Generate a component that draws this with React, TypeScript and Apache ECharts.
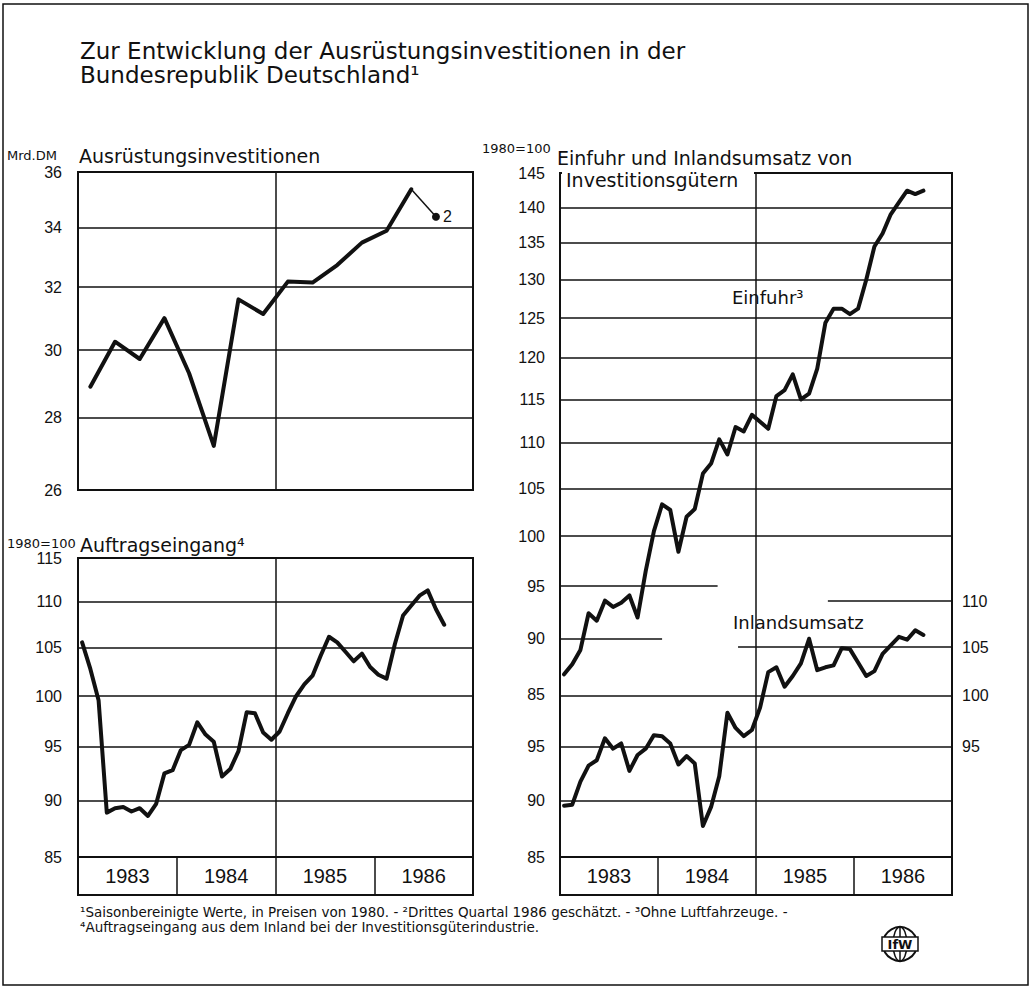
import React, { useEffect, useRef } from 'react';
import * as echarts from 'echarts';

// ---------- data ----------
const years = ['1983', '1984', '1985', '1986'];

// Ausrüstungsinvestitionen, Mrd. DM, quarterly 1983 Q1 .. 1986 Q2
const investQuarterly = [28.9, 30.26, 29.73, 31.0, 29.3, 27.2, 31.6, 31.13, 32.18, 32.15, 32.73, 33.49, 33.9, 35.37];
// 1986 Q3, estimated (footnote 2)
const investEstimate = 34.39;

// Auftragseingang (1980 = 100), monthly Jan 1983 .. Sep 1986
const ordersMonthly = [
  105.6, 102.8, 99.6, 88.9, 89.3, 89.4, 89.0, 89.3, 88.6, 89.7, 92.5, 92.8,
  94.7, 95.2, 97.4, 96.2, 95.5, 92.2, 92.9, 94.6, 98.4, 98.3, 96.4, 95.7,
  96.5, 98.3, 100.0, 101.2, 102.1, 104.2, 106.2, 105.6, 104.6, 103.6, 104.4, 103.0,
  102.2, 101.8, 105.4, 108.5, 109.6, 110.7, 111.3, 109.2, 107.5,
];

// Einfuhr von Investitionsgütern (1980 = 100), monthly
const importsMonthly = [
  86.8, 87.7, 89.0, 92.4, 91.7, 93.6, 93.0, 93.4, 94.1, 92.0, 96.5, 100.5,
  103.3, 102.7, 98.4, 102.0, 102.8, 106.6, 107.7, 110.4, 108.7, 111.8, 111.3, 113.2,
  112.4, 111.6, 115.4, 116.1, 118.0, 115.0, 115.7, 118.7, 124.4, 126.2, 126.2, 125.5,
  126.2, 130.0, 134.5, 136.3, 139.0, 140.7, 142.4, 141.9, 142.4,
];

// Inlandsumsatz von Investitionsgütern (1980 = 100), monthly
const domesticMonthly = [
  89.5, 89.6, 91.7, 93.2, 93.7, 95.8, 94.8, 95.3, 92.7, 94.2, 94.8, 96.1,
  96.0, 95.3, 93.3, 94.1, 93.4, 87.7, 89.4, 92.2, 98.3, 96.8, 96.0, 96.6,
  98.8, 102.4, 102.9, 100.9, 102.0, 103.3, 105.9, 102.6, 102.9, 103.1, 104.9, 104.8,
  103.4, 102.0, 102.5, 104.3, 105.2, 106.1, 105.8, 106.8, 106.3,
];

// tick labels / gridlines
const investTicks = [26, 28, 30, 32, 34, 36];
const ordersTicks = [85, 90, 95, 100, 105, 110, 115];
const importsLabelTicks = [85, 90, 95, 100, 105, 110, 115, 120, 125, 130, 135, 140, 145];
const importsGridTicks = [100, 105, 110, 115, 120, 125, 130, 135, 140, 145];
const domesticLeftTicks = [85, 90, 95];
const domesticGridTicks = [85, 90, 95, 100];
const domesticRightTicks = [95, 100, 105, 110];

// ---------- styling ----------
const BLACK = '#111';
const TXT = "'DejaVu Sans', 'Noto Sans', sans-serif";
const NUM = "'Liberation Sans', Arial, sans-serif";

const monthSeries = (vals: number[]) => vals.map((v, i) => [i + 0.5, v]);

function buildOption(): any {
  const gridBase = { show: true, borderColor: BLACK, borderWidth: 2, backgroundColor: 'transparent', containLabel: false };

  const plotX = (gridIndex: number) => ({
    type: 'value', gridIndex, min: 0, max: 48, interval: 24,
    axisLine: { show: false }, axisTick: { show: false }, axisLabel: { show: false },
    splitLine: { show: true, lineStyle: { color: BLACK, width: 1.5 } },
  });
  const bandX = (gridIndex: number) => ({
    type: 'category', gridIndex, data: years, boundaryGap: true,
    axisLine: { show: false }, axisTick: { show: false },
    splitLine: { show: true, interval: 0, lineStyle: { color: BLACK, width: 1.5 } },
    axisLabel: { inside: true, margin: 19, verticalAlign: 'middle', interval: 0, fontSize: 20, fontFamily: NUM, color: BLACK },
  });
  const logY = (gridIndex: number, min: number, max: number, labels: number[], grid: number[] | null, position: string, margin = 15) => ({
    type: 'log', logBase: 10, gridIndex, min, max, position,
    axisLine: { show: false },
    axisTick: { show: false, customValues: grid || labels },
    axisLabel: {
      show: true, customValues: labels, margin, fontSize: 16, fontFamily: NUM, color: BLACK,
      formatter: (v: number) => String(Math.round(v)),
    },
    splitLine: { show: !!grid, lineStyle: { color: BLACK, width: 1.5 } },
  });
  const hiddenY = (gridIndex: number) => ({ type: 'value', gridIndex, min: 0, max: 1, show: false });

  const lineStyle = { color: BLACK, width: 4, join: 'round', cap: 'round' };
  const partialGrid = { color: BLACK, width: 1.5, type: 'solid' };

  return {
    animation: false,
    backgroundColor: '#fff',
    grid: [
      { ...gridBase, left: 78, top: 172, width: 395, height: 318 },
      { ...gridBase, left: 78, top: 558, width: 395, height: 299 },
      { ...gridBase, left: 78, top: 857, width: 395, height: 38 },
      { ...gridBase, left: 560, top: 173, width: 392, height: 684 },
      { ...gridBase, left: 560, top: 857, width: 392, height: 38 },
    ],
    xAxis: [plotX(0), plotX(1), bandX(2), plotX(3), bandX(4)],
    yAxis: [
      logY(0, 26, 36, investTicks, investTicks, 'left', 16),
      logY(1, 85, 115, ordersTicks, ordersTicks, 'left', 16),
      hiddenY(2),
      logY(3, 72, 145, importsLabelTicks, importsGridTicks, 'left', 15),
      logY(3, 85, 169.3, domesticLeftTicks, domesticGridTicks, 'left', 15),
      logY(3, 85, 169.3, domesticRightTicks, null, 'right', 10),
      hiddenY(4),
    ],
    series: [
      {
        name: 'Ausrüstungsinvestitionen', type: 'line', xAxisIndex: 0, yAxisIndex: 0,
        data: investQuarterly.map((v, q) => [3 * q + 1.5, v]),
        symbol: 'none', lineStyle, z: 5,
      },
      {
        name: 'Schätzung', type: 'line', xAxisIndex: 0, yAxisIndex: 0,
        data: [
          [3 * (investQuarterly.length - 1) + 1.5, investQuarterly[investQuarterly.length - 1]],
          {
            value: [3 * investQuarterly.length + 1.5, investEstimate], symbol: 'circle', symbolSize: 8,
            label: { show: true, position: 'right', distance: 3, formatter: '2', fontSize: 16, fontFamily: NUM, color: BLACK },
          },
        ],
        symbol: 'none', showSymbol: true, lineStyle: { color: BLACK, width: 1.5 }, itemStyle: { color: BLACK }, z: 5,
      },
      {
        name: 'Auftragseingang', type: 'line', xAxisIndex: 1, yAxisIndex: 1,
        data: monthSeries(ordersMonthly), symbol: 'none', lineStyle, z: 5,
      },
      {
        name: 'Einfuhr', type: 'line', xAxisIndex: 3, yAxisIndex: 3,
        data: monthSeries(importsMonthly), symbol: 'none', lineStyle, z: 5,
        markLine: {
          silent: true, symbol: 'none', label: { show: false }, lineStyle: partialGrid,
          data: [
            [{ coord: [0, 95] }, { coord: [19.3, 95] }],
            [{ coord: [0, 90] }, { coord: [12.5, 90] }],
          ],
        },
      },
      {
        name: 'Inlandsumsatz', type: 'line', xAxisIndex: 3, yAxisIndex: 4,
        data: monthSeries(domesticMonthly), symbol: 'none', lineStyle, z: 5,
        markLine: {
          silent: true, symbol: 'none', label: { show: false }, lineStyle: partialGrid,
          data: [
            [{ coord: [32.8, 110] }, { coord: [48, 110] }],
            [{ coord: [21.8, 105] }, { coord: [48, 105] }],
          ],
        },
      },
    ],
    graphic: [
      // outer frame
      { type: 'rect', z: 50, shape: { x: 3, y: 4, width: 1025, height: 981 }, style: { fill: 'none', stroke: BLACK, lineWidth: 1.5 } },
      // title
      { type: 'text', z: 50, x: 80, y: 51, style: { text: 'Zur Entwicklung der Ausrüstungsinvestitionen in der', font: `23px ${TXT}`, fill: BLACK, textAlign: 'left', textVerticalAlign: 'middle' } },
      { type: 'text', z: 50, x: 80, y: 75, style: { text: 'Bundesrepublik Deutschland¹', font: `23px ${TXT}`, fill: BLACK, textAlign: 'left', textVerticalAlign: 'middle' } },
      // top-left panel heading
      { type: 'text', z: 50, x: 7, y: 155, style: { text: 'Mrd.DM', font: `13px ${TXT}`, fill: BLACK, textAlign: 'left', textVerticalAlign: 'middle' } },
      { type: 'text', z: 50, x: 79, y: 156, style: { text: 'Ausrüstungsinvestitionen', font: `19px ${TXT}`, fill: BLACK, textAlign: 'left', textVerticalAlign: 'middle' } },
      // bottom-left panel heading
      { type: 'text', z: 50, x: 7, y: 543, style: { text: '1980=100', font: `13px ${TXT}`, fill: BLACK, textAlign: 'left', textVerticalAlign: 'middle' } },
      { type: 'text', z: 50, x: 80, y: 545, style: { text: 'Auftragseingang⁴', font: `19px ${TXT}`, fill: BLACK, textAlign: 'left', textVerticalAlign: 'middle' } },
      // right panel heading
      { type: 'text', z: 50, x: 482, y: 148, style: { text: '1980=100', font: `13px ${TXT}`, fill: BLACK, textAlign: 'left', textVerticalAlign: 'middle' } },
      { type: 'text', z: 50, x: 557, y: 158, style: { text: 'Einfuhr und Inlandsumsatz von', font: `19px ${TXT}`, fill: BLACK, textAlign: 'left', textVerticalAlign: 'middle' } },
      { type: 'rect', z: 50, shape: { x: 562, y: 168, width: 192, height: 22 }, style: { fill: '#fff' } },
      { type: 'text', z: 51, x: 566, y: 180, style: { text: 'Investitionsgütern', font: `19px ${TXT}`, fill: BLACK, textAlign: 'left', textVerticalAlign: 'middle' } },
      // series labels
      { type: 'text', z: 50, x: 732, y: 297, style: { text: 'Einfuhr³', font: `18px ${TXT}`, fill: BLACK, textAlign: 'left', textVerticalAlign: 'middle' } },
      { type: 'text', z: 50, x: 733, y: 622, style: { text: 'Inlandsumsatz', font: `18px ${TXT}`, fill: BLACK, textAlign: 'left', textVerticalAlign: 'middle' } },
      // footnotes
      { type: 'text', z: 50, x: 80, y: 912, style: { text: '¹Saisonbereinigte Werte, in Preisen von 1980. - ²Drittes Quartal 1986 geschätzt. - ³Ohne Luftfahrzeuge. -', font: `13.5px ${TXT}`, fill: BLACK, textAlign: 'left', textVerticalAlign: 'middle' } },
      { type: 'text', z: 50, x: 80, y: 927, style: { text: '⁴Auftragseingang aus dem Inland bei der Investitionsgüterindustrie.', font: `13.5px ${TXT}`, fill: BLACK, textAlign: 'left', textVerticalAlign: 'middle' } },
      // IfW logo
      {
        type: 'group', z: 50, x: 900, y: 944,
        children: [
          { type: 'circle', shape: { cx: 0, cy: 0, r: 17 }, style: { fill: '#fff', stroke: BLACK, lineWidth: 2 } },
          { type: 'ellipse', shape: { cx: 0, cy: 0, rx: 7, ry: 17 }, style: { fill: 'none', stroke: BLACK, lineWidth: 1.5 } },
          { type: 'line', shape: { x1: 0, y1: -17, x2: 0, y2: 17 }, style: { stroke: BLACK, lineWidth: 1.5 } },
          { type: 'rect', shape: { x: -18, y: -7, width: 36, height: 14 }, style: { fill: '#fff', stroke: BLACK, lineWidth: 1.5 } },
          { type: 'text', x: 0, y: 0, style: { text: 'IfW', font: `bold 13px ${TXT}`, fill: BLACK, textAlign: 'center', textVerticalAlign: 'middle' } },
        ],
      },
    ],
  };
}

export default function App() {
  const ref = useRef<HTMLDivElement>(null);
  useEffect(() => {
    if (!ref.current) return;
    const chart = echarts.init(ref.current, undefined, { renderer: 'svg' });
    chart.setOption(buildOption());
    return () => chart.dispose();
  }, []);
  return <div ref={ref} style={{ position: 'absolute', left: 0, top: 0, width: 1032, height: 989, background: '#fff' }} />;
}
